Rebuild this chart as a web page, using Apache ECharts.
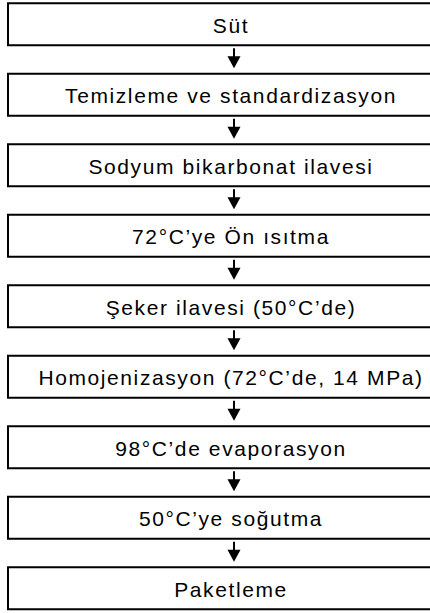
<!DOCTYPE html>
<html><head><meta charset="utf-8">
<script src="https://cdn.jsdelivr.net/npm/echarts@6/dist/echarts.min.js"></script>
<style>
html,body{margin:0;padding:0;background:#fff}
#main{width:430px;height:613px}
#main text{letter-spacing:1.6px}
</style>
</head><body><div id="main"></div>
<script>
// Process steps (top to bottom)
const steps = [
  'Süt',
  'Temizleme ve standardizasyon',
  'Sodyum bikarbonat ilavesi',
  '72°C’ye Ön ısıtma',
  'Şeker ilavesi (50°C’de)',
  'Homojenizasyon (72°C’de, 14 MPa)',
  '98°C’de evaporasyon',
  '50°C’ye soğutma',
  'Paketleme'
];
const stepOrder = [0, 1, 2, 3, 4, 5, 6, 7, 8];

const chart = echarts.init(document.getElementById('main'), null, {renderer: 'svg'});
const lastIdx = stepOrder.length - 1;

chart.setOption({
  animation: false,
  backgroundColor: '#fff',
  grid: {left: 0, right: 0, top: 24.3, bottom: 24.7},
  xAxis: {type: 'value', min: 0, max: 430, show: false},
  yAxis: {type: 'value', min: 0, max: lastIdx, inverse: true, show: false},
  series: [{
    type: 'custom',
    clip: false,
    data: stepOrder.map(i => [231, i]),
    renderItem: function (params, api) {
      const idx = api.value(1);
      const p = api.coord([api.value(0), idx]);
      const cx = p[0], cy = p[1];
      const halfH = 21;
      const children = [
        {type: 'rect', shape: {x: 8, y: cy - halfH, width: 448, height: 2 * halfH},
         style: {fill: '#fff', stroke: '#000', lineWidth: 2}},
        {type: 'text', x: cx, y: cy + 1,
         style: {text: steps[params.dataIndex], fill: '#000', fontSize: 21,
                 fontFamily: '"Liberation Sans", Arial, sans-serif',
                 align: 'center', verticalAlign: 'middle'}}
      ];
      if (idx < lastIdx) {
        const ax = 234, b = cy + halfH;
        children.push({type: 'line', shape: {x1: ax, y1: b + 3, x2: ax, y2: b + 12},
                       style: {stroke: '#000', lineWidth: 2}});
        children.push({type: 'polygon', shape: {points: [[ax - 6.5, b + 11], [ax + 6.5, b + 11], [ax, b + 23]]},
                       style: {fill: '#000'}});
      }
      return {type: 'group', children: children};
    }
  }]
});
</script>
</body></html>
